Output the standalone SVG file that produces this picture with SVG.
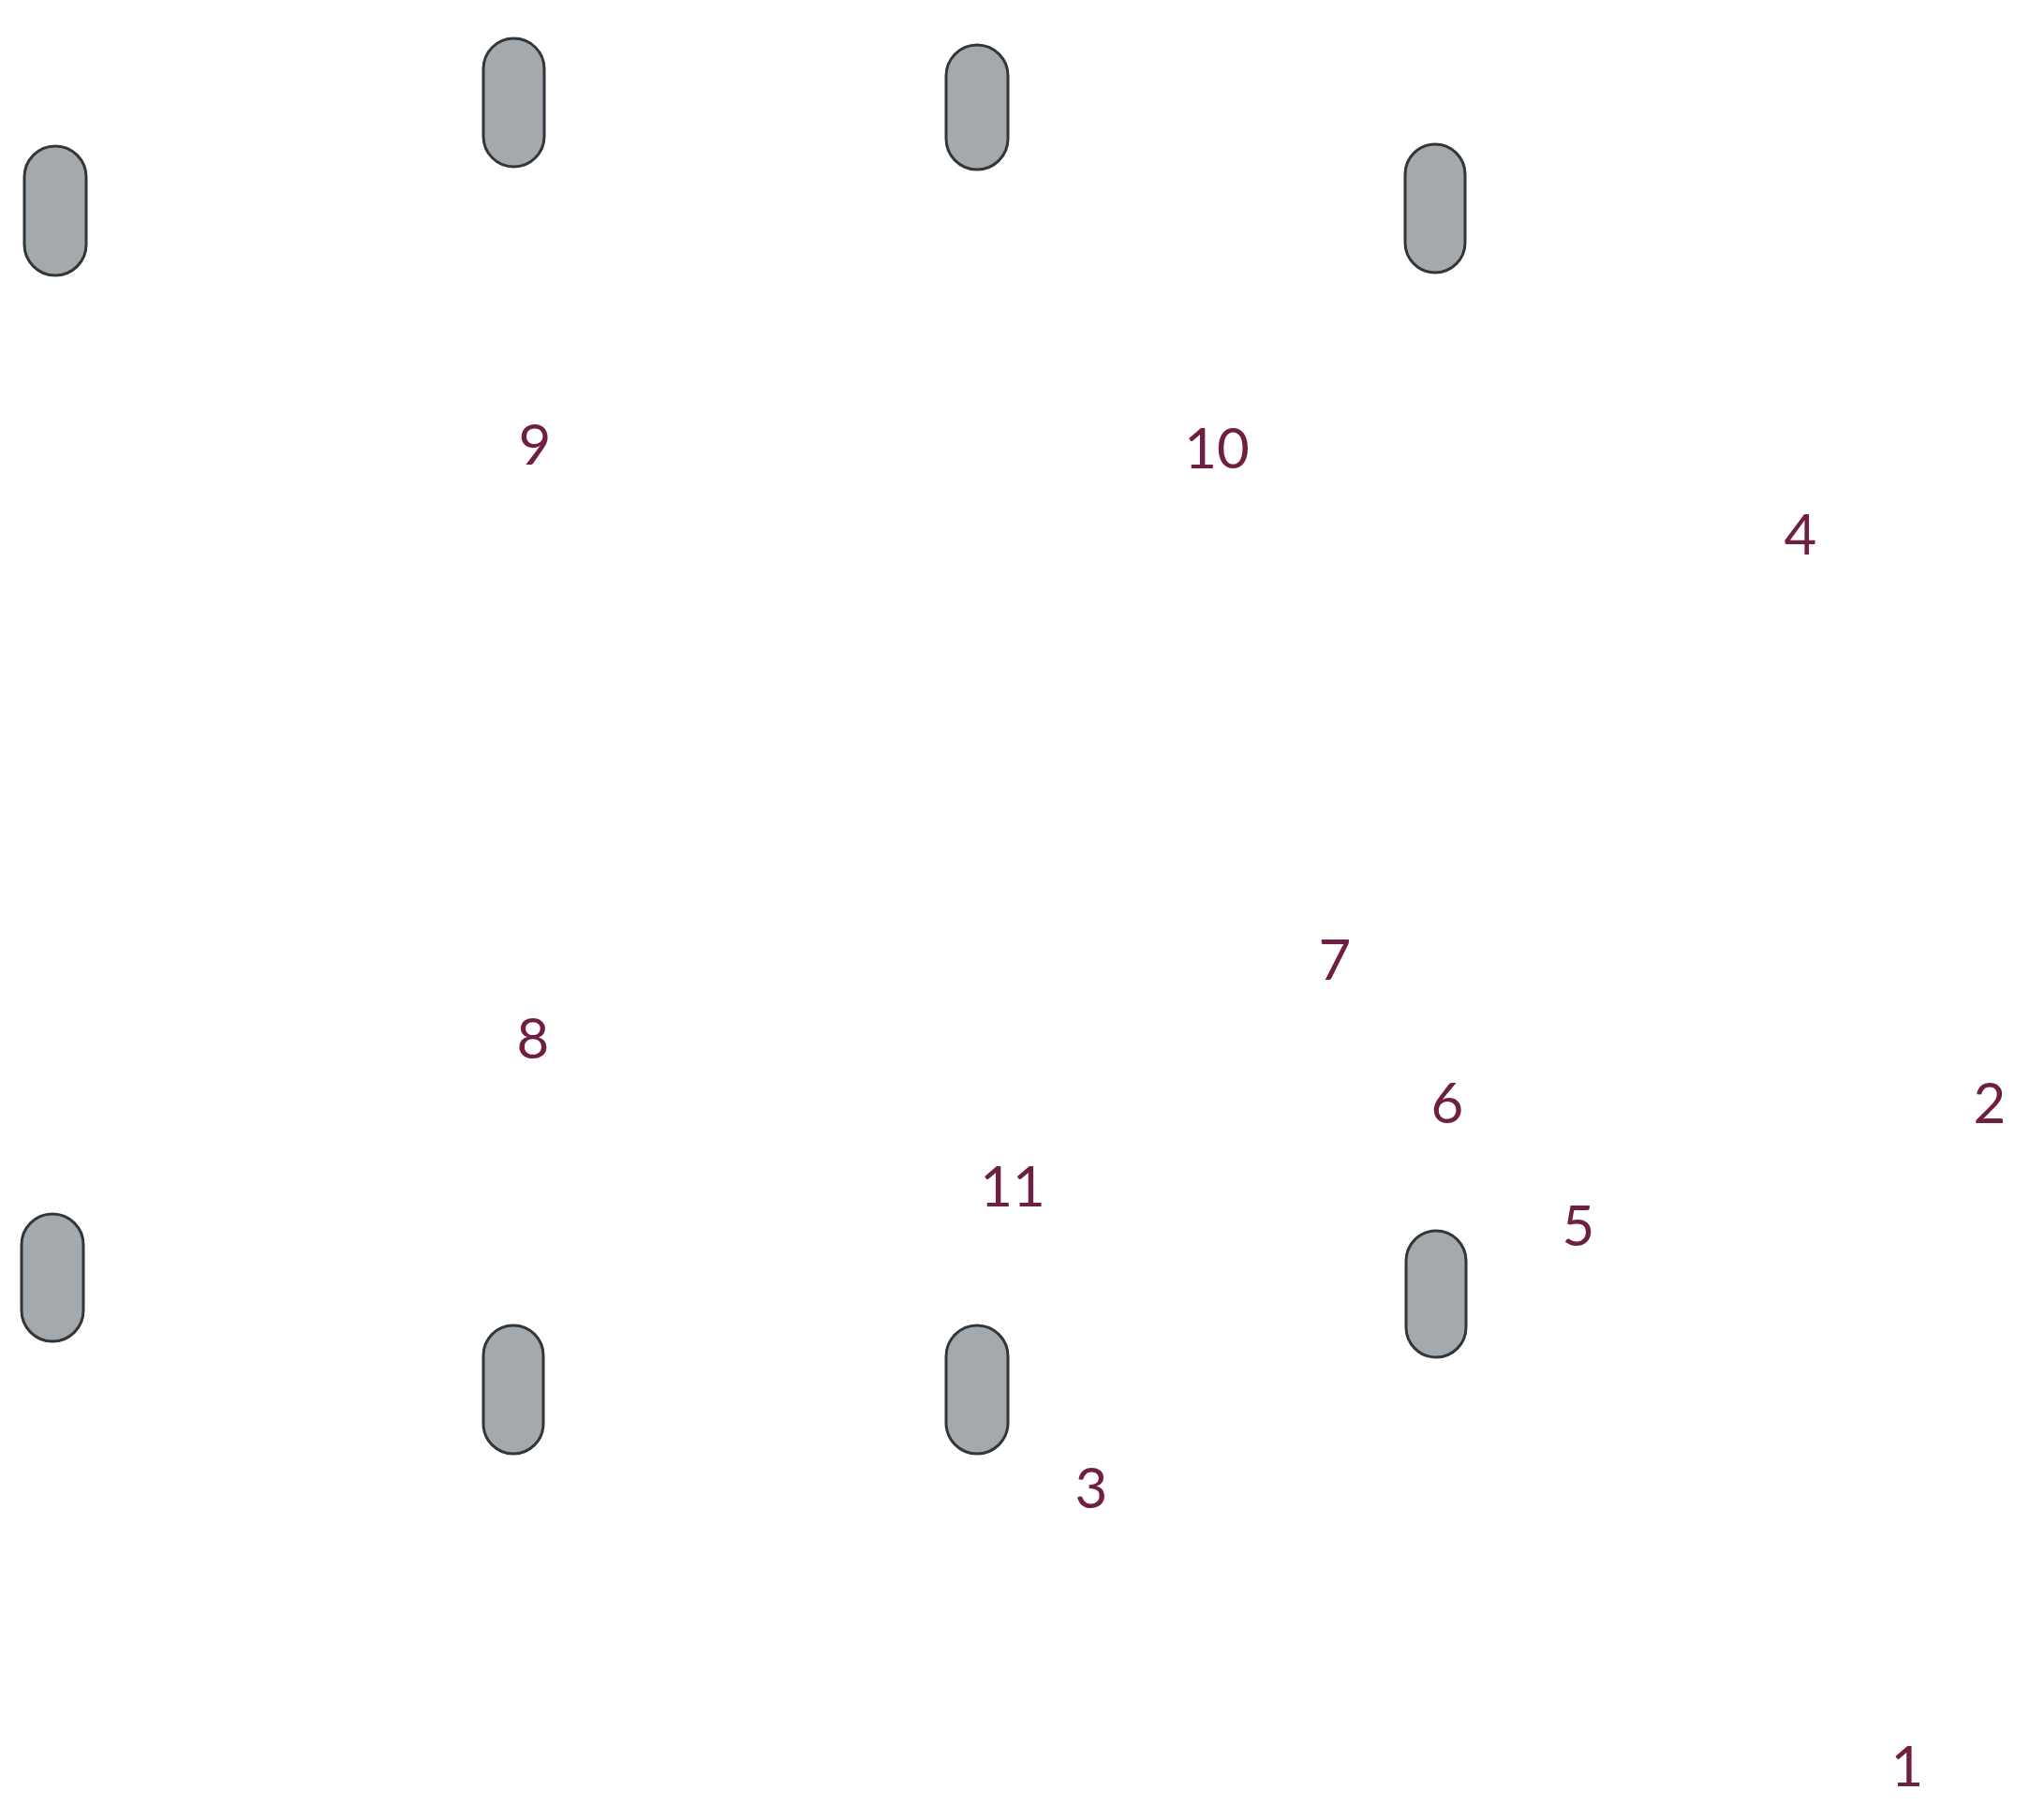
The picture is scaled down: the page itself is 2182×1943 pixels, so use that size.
<svg xmlns="http://www.w3.org/2000/svg" width="2182" height="1943" viewBox="0 0 2182 1943">
<style>
.pill{fill:#a3a9ac;stroke:#333638;stroke-width:3}
.lbl{font-family:"Lato","Liberation Sans",sans-serif;font-size:60px;fill:#6e1f42;text-anchor:middle}
</style>
<rect width="2182" height="1943" fill="#ffffff"/>
<g id="connectors"></g>
<g id="pill1"><rect class="pill" x="26" y="156" width="66" height="138" rx="33"/></g>
<g id="pill2"><rect class="pill" x="516" y="41" width="65" height="137" rx="32.5"/></g>
<g id="pill3"><rect class="pill" x="1010" y="48" width="66" height="133" rx="33"/></g>
<g id="pill4"><rect class="pill" x="1500" y="154" width="64" height="137" rx="32"/></g>
<g id="pill5"><rect class="pill" x="23" y="1296" width="66" height="136" rx="33"/></g>
<g id="pill6"><rect class="pill" x="516" y="1415" width="64" height="137" rx="32"/></g>
<g id="pill7"><rect class="pill" x="1010" y="1415" width="66" height="137" rx="33"/></g>
<g id="pill8"><rect class="pill" x="1501" y="1314" width="64" height="135" rx="32"/></g>
<g id="n9"><text class="lbl" x="571" y="496">9</text></g>
<g id="n10"><text class="lbl" x="1299" y="500">10</text></g>
<g id="n4"><text class="lbl" x="1922" y="592">4</text></g>
<g id="n7"><text class="lbl" x="1425" y="1046">7</text></g>
<g id="n8"><text class="lbl" x="569" y="1130">8</text></g>
<g id="n6"><text class="lbl" x="1545" y="1199">6</text></g>
<g id="n2"><text class="lbl" x="2124" y="1199">2</text></g>
<g id="n11"><text class="lbl" x="1081" y="1288">11</text></g>
<g id="n5"><text class="lbl" x="1685" y="1330">5</text></g>
<g id="n3"><text class="lbl" x="1165" y="1610">3</text></g>
<g id="n1"><text class="lbl" x="2036" y="1907">1</text></g>
</svg>
